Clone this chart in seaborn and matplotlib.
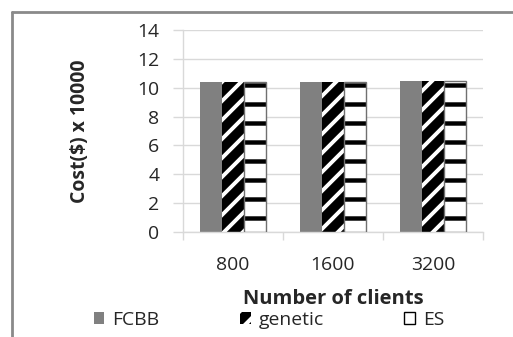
import matplotlib
matplotlib.use("Agg")
import matplotlib.pyplot as plt
from matplotlib.patches import Patch
from matplotlib.lines import Line2D
import seaborn as sns
import pandas as pd

clients = ["800", "1600", "3200"]
methods = ["FCBB", "genetic", "ES"]
fcbb = [10.42, 10.43, 10.46]
genetic = [10.42, 10.43, 10.46]
es = [10.42, 10.43, 10.46]
y_ticks = [0, 2, 4, 6, 8, 10, 12, 14]

df = pd.DataFrame({
    "clients": clients * 3,
    "method": [m for m in methods for _ in clients],
    "cost": fcbb + genetic + es,
})

DPI = 114
S = 100 / DPI  # point sizes below are tuned for 100 dpi

sns.set_theme(style="white")
plt.rcParams["font.family"] = ["Open Sans", "DejaVu Sans"]
plt.rcParams["hatch.linewidth"] = 3.0 * S
text_color = "#262626"

fig = plt.figure(figsize=(513 / DPI, 337 / DPI), dpi=DPI)
ax = fig.add_axes([183 / 513, 1 - 232 / 337, 300 / 513, 202 / 337])

sns.barplot(data=df, x="clients", y="cost", hue="method", order=clients,
            hue_order=methods, palette=["#808080", "black", "white"],
            width=0.66, saturation=1, legend=False, ax=ax)

styles = {
    "FCBB": dict(facecolor="#808080", edgecolor="#808080", hatch=None, hlw=None),
    "genetic": dict(facecolor="black", edgecolor="white", hatch="//", hlw=2.8 * S),
    "ES": dict(facecolor="white", edgecolor="black", hatch="-", hlw=3.2 * S),
}
for cont, m in zip(ax.containers, methods):
    st = styles[m]
    for bar in cont:
        bar.set_facecolor(st["facecolor"])
        bar.set_edgecolor(st["edgecolor"])
        bar.set_linewidth(0)
        if st["hatch"]:
            bar.set_hatch(st["hatch"])
            if hasattr(bar, "set_hatch_linewidth"):
                bar.set_hatch_linewidth(st["hlw"])
        if m == "ES":
            # thin grey outline around the striped bars
            x, y = bar.get_xy()
            ax.add_patch(plt.Rectangle((x, y), bar.get_width(), bar.get_height(),
                                       fill=False, edgecolor="#707070", lw=1.0 * S, zorder=3))

ax.set_ylim(0, 14)
ax.set_xlim(-0.5, 2.5)
ax.set_yticks(y_ticks)
ax.set_yticklabels([str(t) for t in y_ticks], fontsize=14 * S, color=text_color)
ax.set_xticks([0, 1, 2])
ax.set_xticklabels(clients, fontsize=14 * S, color=text_color)
ax.yaxis.grid(True, color="#d9d9d9", lw=1.0 * S)
ax.set_axisbelow(True)
ax.tick_params(axis="y", length=7 * S, width=S, color="#d9d9d9", pad=10 * S, left=True)
ax.tick_params(axis="x", length=0, pad=17 * S)
# category separator ticks on the bottom axis
ax.set_xticks([-0.5, 0.5, 1.5, 2.5], minor=True)
ax.tick_params(axis="x", which="minor", length=6 * S, width=S, color="#d9d9d9", bottom=True)
for side in ["top", "right"]:
    ax.spines[side].set_visible(False)
for side in ["left", "bottom"]:
    ax.spines[side].set_color("#d9d9d9")
    ax.spines[side].set_linewidth(1.0 * S)

ax.set_xlabel("Number of clients", fontsize=14.5 * S, fontweight="bold", labelpad=11 * S,
              color=text_color)
ax.set_ylabel("Cost($) x 10000", fontsize=14 * S, fontweight="bold", labelpad=34 * S,
              color=text_color)

handles = [
    Patch(facecolor="#808080", edgecolor="#808080", lw=0),
    Patch(facecolor="black", edgecolor="white", hatch="//", lw=0),
    Patch(facecolor="white", edgecolor="black", lw=1.0 * S),
]
leg = fig.legend(handles, methods, loc="center left", bbox_to_anchor=(84 / 513, 1 - 320 / 337),
                 ncol=3, frameon=False, fontsize=14 * S, handlelength=0.55, handleheight=0.55,
                 handletextpad=0.4, columnspacing=4.15, borderpad=0)
for t in leg.get_texts():
    t.set_color(text_color)

# outer frame
fig.add_artist(Line2D([12 / 513, 1.0], [1 - 12 / 337, 1 - 12 / 337], color="#8a8a8a", lw=2 * S,
                      transform=fig.transFigure))
fig.add_artist(Line2D([12 / 513, 12 / 513], [0, 1 - 12 / 337], color="#8a8a8a", lw=2 * S,
                      transform=fig.transFigure))

fig.savefig("out.png", dpi=DPI)
